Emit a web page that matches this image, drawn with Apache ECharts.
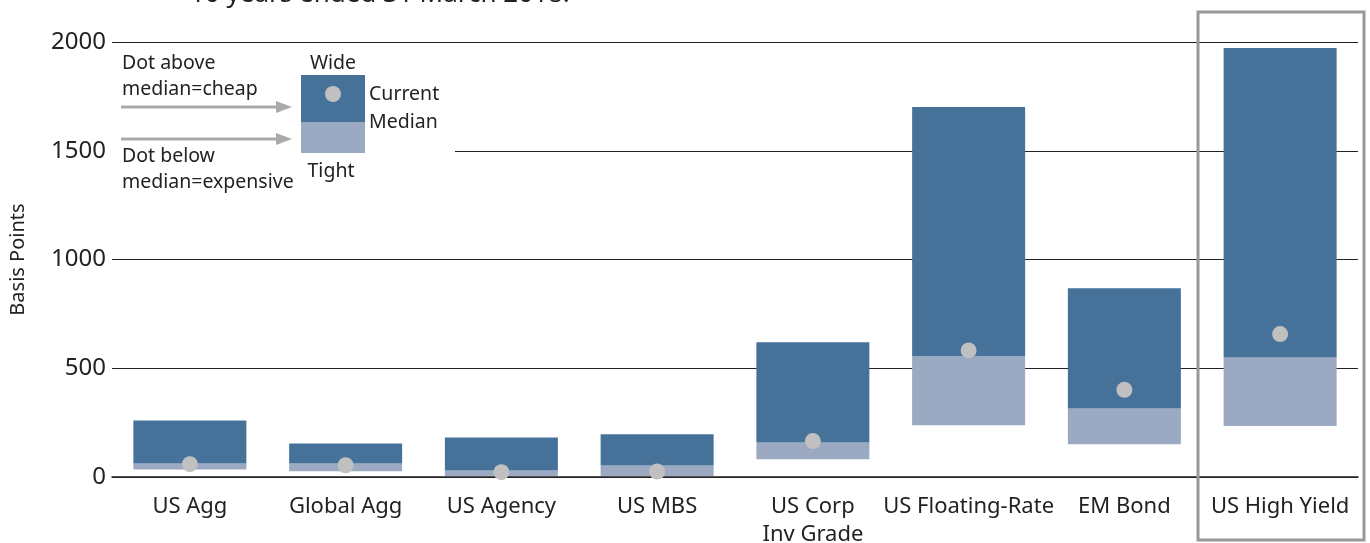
<!DOCTYPE html>
<html>
<head>
<meta charset="utf-8">
<script src="https://cdn.jsdelivr.net/npm/echarts@6/dist/echarts.min.js"></script>
<style>
  html, body { margin: 0; padding: 0; background: #fff; }
  #chart { width: 1370px; height: 543px; }
</style>
</head>
<body>
<div id="chart"></div>
<script>
// spread ranges in basis points, 10 years ended 31 March 2018
var categories = ['US Agg', 'Global Agg', 'US Agency', 'US MBS', 'US Corp\nInv Grade', 'US Floating-Rate', 'EM Bond', 'US High Yield'];
var tight   = [35, 27, 5, 5, 82, 238, 151, 234];
var median  = [62, 62, 30, 53, 159, 555, 315, 550];
var wide    = [260, 154, 182, 196, 619, 1701, 868, 1972];
var current = [59, 54, 22, 25, 165, 582, 401, 657];
var yTicks  = [0, 500, 1000, 1500, 2000];

var DARK = '#46729a';
var LIGHT = '#9ba9c3';
var DOT = '#c0c0c0';
var FONT = '"Noto Sans", "Liberation Sans", sans-serif';

var base = tight.slice();
var lower = median.map(function (m, i) { return m - tight[i]; });
var upper = wide.map(function (w, i) { return w - median[i]; });

var chart = echarts.init(document.getElementById('chart'));

var legendText = function (x, y, txt, align) {
    return {
        type: 'text', x: x, y: y, z: 20,
        style: { text: txt, fill: '#222', font: '19.5px ' + FONT, textAlign: align || 'left', textVerticalAlign: 'middle' }
    };
};

chart.setOption({
    animation: false,
    grid: { left: 112, right: 12, top: 42, bottom: 66, outerBoundsMode: 'none' },
    xAxis: {
        type: 'category',
        data: categories,
        axisLine: { lineStyle: { color: '#222', width: 1.5 } },
        axisTick: { show: false },
        axisLabel: { color: '#222', fontSize: 22, fontFamily: FONT, margin: 16, lineHeight: 28, interval: 0 }
    },
    yAxis: {
        type: 'value',
        min: 0, max: 2000, interval: 500,
        name: 'Basis Points',
        nameLocation: 'middle',
        nameGap: 84,
        nameTextStyle: { color: '#222', fontSize: 20, fontFamily: FONT },
        axisLine: { show: false },
        axisTick: { show: false },
        axisLabel: {
            color: '#222', fontSize: 24, fontFamily: FONT, margin: 6,
            formatter: function (v) { return yTicks.indexOf(v) >= 0 ? String(v) : ''; }
        },
        splitLine: { lineStyle: { color: '#222', width: 1.2 } }
    },
    series: [
        { type: 'bar', stack: 'r', data: base, barWidth: 113, itemStyle: { color: 'transparent' }, silent: true },
        { type: 'bar', stack: 'r', data: lower, barWidth: 113, itemStyle: { color: LIGHT } },
        { type: 'bar', stack: 'r', data: upper, barWidth: 113, itemStyle: { color: DARK } },
        { type: 'scatter', data: current, symbolSize: 16, itemStyle: { color: DOT, opacity: 1 }, z: 5 }
    ],
    graphic: [
        { type: 'text', x: 190, y: -18, style: { text: '10 years ended 31 March 2018.', fill: '#222', font: '26px ' + FONT } },
        // legend area hides the 1500 gridline
        { type: 'rect', shape: { x: 112, y: 140, width: 343, height: 20 }, style: { fill: '#fff' }, z: 10 },
        { type: 'rect', shape: { x: 301, y: 75, width: 64, height: 47 }, style: { fill: DARK }, z: 11 },
        { type: 'rect', shape: { x: 301, y: 122, width: 64, height: 31 }, style: { fill: LIGHT }, z: 11 },
        { type: 'circle', shape: { cx: 333, cy: 94, r: 8 }, style: { fill: DOT }, z: 12 },
        { type: 'line', shape: { x1: 121, y1: 107, x2: 286, y2: 107 }, style: { stroke: '#aaa', lineWidth: 3 }, z: 11 },
        { type: 'polygon', shape: { points: [[276, 101], [292, 107], [276, 113]] }, style: { fill: '#aaa' }, z: 11 },
        { type: 'line', shape: { x1: 121, y1: 139, x2: 286, y2: 139 }, style: { stroke: '#aaa', lineWidth: 3 }, z: 11 },
        { type: 'polygon', shape: { points: [[276, 133], [292, 139], [276, 145]] }, style: { fill: '#aaa' }, z: 11 },
        legendText(122, 63, 'Dot above'),
        legendText(122, 89, 'median=cheap'),
        legendText(122, 156, 'Dot below'),
        legendText(122, 182, 'median=expensive'),
        legendText(333, 63, 'Wide', 'center'),
        legendText(369, 94, 'Current'),
        legendText(369, 122, 'Median'),
        legendText(331, 171, 'Tight', 'center'),
        // highlight box around US High Yield
        { type: 'rect', shape: { x: 1198, y: 12, width: 166, height: 528 }, style: { fill: 'none', stroke: '#999', lineWidth: 3 }, z: 15 }
    ]
});
</script>
</body>
</html>
